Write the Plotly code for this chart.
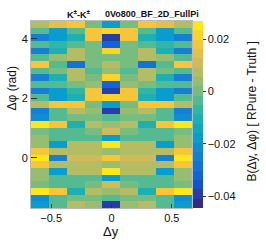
import numpy as np
import plotly.graph_objects as go

# Bin centres
dy_centers = [-0.593, -0.444, -0.296, -0.148, 0.0, 0.148, 0.296, 0.444, 0.593]
n_phi = 28
dphi_centers = list(-np.pi / 2 + np.arange(n_phi) * 2 * np.pi / n_phi)

# Values, rows listed from top (largest dphi) to bottom
z_top_to_bottom = [
    [0.0055, 0.0155, 0.0169, 0.0012, -0.0174, 0.0012, 0.0169, 0.0155, 0.0055],
    [-0.0052, -0.0174, -0.0052, 0.0169, 0.0198, 0.0169, -0.0052, -0.0174, -0.0052],
    [-0.0252, -0.0174, -0.0102, 0.0169, -0.0374, 0.0169, -0.0102, -0.0174, -0.0252],
    [-0.0052, -0.0059, -0.0017, -0.0002, -0.0324, -0.0002, -0.0017, -0.0059, -0.0052],
    [-0.0259, -0.0117, 0.0083, -0.0002, 0.0198, -0.0002, 0.0083, -0.0117, -0.0259],
    [-0.0052, 0.0026, 0.0069, -0.0009, -0.0002, -0.0009, 0.0069, 0.0026, -0.0052],
    [0.0169, -0.0045, -0.0267, -0.0009, 0.0083, -0.0009, -0.0267, -0.0045, 0.0169],
    [-0.0052, 0.0019, 0.0076, -0.0017, 0.0026, -0.0017, 0.0076, 0.0019, -0.0052],
    [-0.0259, -0.0117, 0.0083, -0.0002, 0.0198, -0.0002, 0.0083, -0.0117, -0.0259],
    [-0.0052, -0.0038, -0.0009, 0.0033, -0.0324, 0.0033, -0.0009, -0.0038, -0.0052],
    [-0.0252, -0.0174, -0.0074, 0.0169, -0.0374, 0.0169, -0.0074, -0.0174, -0.0252],
    [-0.0045, -0.0174, -0.0095, 0.0169, 0.0198, 0.0169, -0.0095, -0.0174, -0.0045],
    [0.0055, 0.0162, 0.0162, 0.0012, -0.0174, 0.0012, 0.0162, 0.0162, 0.0055],
    [-0.0231, -0.0024, 0.0083, 0.0041, -0.0409, 0.0041, 0.0083, -0.0024, -0.0231],
    [-0.0209, -0.0017, 0.0012, -0.0009, -0.0017, -0.0009, 0.0012, -0.0017, -0.0209],
    [0.0269, 0.0169, -0.0117, 0.0069, 0.0048, 0.0069, -0.0117, 0.0169, 0.0269],
    [-0.0009, -0.0017, -0.0052, 0.0019, 0.0112, 0.0019, -0.0052, -0.0017, -0.0009],
    [0.0048, -0.0031, -0.0017, -0.0052, -0.0167, -0.0052, -0.0017, -0.0031, 0.0048],
    [0.0048, -0.0195, 0.0083, 0.0055, 0.0255, 0.0055, 0.0083, -0.0195, 0.0048],
    [0.0176, 0.0069, 0.0055, 0.0076, 0.0033, 0.0076, 0.0055, 0.0069, 0.0176],
    [0.0248, -0.0231, 0.0091, 0.0091, 0.0176, 0.0091, 0.0091, -0.0231, 0.0248],
    [0.0176, 0.0069, 0.0055, 0.0076, 0.0033, 0.0076, 0.0055, 0.0069, 0.0176],
    [0.0048, -0.0195, 0.0083, 0.0055, 0.0255, 0.0055, 0.0083, -0.0195, 0.0048],
    [0.0048, -0.0031, -0.0017, -0.0052, -0.0167, -0.0052, -0.0017, -0.0031, 0.0048],
    [-0.0009, -0.0017, -0.0052, 0.0019, 0.0112, 0.0019, -0.0052, -0.0017, -0.0009],
    [0.0269, 0.0169, -0.0117, 0.0069, 0.0048, 0.0069, -0.0117, 0.0169, 0.0269],
    [-0.0209, -0.0017, 0.0012, -0.0009, -0.0017, -0.0009, 0.0012, -0.0017, -0.0209],
    [-0.0195, -0.0024, 0.0083, 0.0041, -0.0409, 0.0041, 0.0083, -0.0024, -0.0195],
]
z_vals = z_top_to_bottom[::-1]

z_min, z_max = -0.0445, 0.0269
cbar_tickvals = [-0.04, -0.02, 0.0, 0.02]
cbar_ticktext = ["\u22120.04", "\u22120.02", "0", "0.02"]

# ROOT kBird (parula) palette, discretised into 20 contour bands
stops = [0.0, 0.125, 0.25, 0.375, 0.5, 0.625, 0.75, 0.875, 1.0]
red = [0.2082, 0.0592, 0.0780, 0.0232, 0.1802, 0.5301, 0.8186, 0.9956, 0.9764]
green = [0.1664, 0.3599, 0.5041, 0.6419, 0.7178, 0.7492, 0.7328, 0.7862, 0.9832]
blue = [0.5293, 0.8684, 0.8385, 0.7914, 0.6425, 0.4662, 0.3499, 0.1968, 0.0539]


def bird(t):
    r = np.interp(t, stops, red)
    g = np.interp(t, stops, green)
    b = np.interp(t, stops, blue)
    return f"rgb({int(r*255)},{int(g*255)},{int(b*255)})"


n_bands = 20
cscale = []
for i in range(n_bands):
    c = bird(min(1.0, i * (255 / n_bands) / 254))
    cscale.append([i / n_bands, c])
    cscale.append([(i + 1) / n_bands, c])

W, H = 266, 242
ml, mr, mt, mb = 31, 74, 21, 34
pw, ph = W - ml - mr, H - mt - mb


def px(xp):
    return (xp - ml) / pw


def py(yp):
    return (H - mb - yp) / ph


fig = go.Figure(
    go.Heatmap(
        x=dy_centers,
        y=dphi_centers,
        z=z_vals,
        zmin=z_min,
        zmax=z_max,
        colorscale=cscale,
        colorbar=dict(
            thickness=10,
            thicknessmode="pixels",
            len=1,
            lenmode="fraction",
            x=px(193),
            xanchor="left",
            xpad=0,
            y=0.5,
            yanchor="middle",
            ypad=0,
            tickvals=cbar_tickvals,
            ticktext=cbar_ticktext,
            ticks="outside",
            ticklen=3,
            tickcolor="#333",
            tickfont=dict(size=11, color="#111"),
            outlinewidth=0,
        ),
    )
)

font_family = "Liberation Sans, Arial, Helvetica, sans-serif"
fig.update_layout(
    width=W,
    height=H,
    margin=dict(l=ml, r=mr, t=mt, b=mb),
    paper_bgcolor="white",
    plot_bgcolor="white",
    font=dict(family=font_family, size=11, color="#111"),
    xaxis=dict(
        range=[-0.667, 0.667],
        tickvals=[-0.5, 0, 0.5],
        ticktext=["\u22120.5", "0", "0.5"],
        ticks="inside",
        ticklen=4,
        tickcolor="#333",
        showgrid=False,
        zeroline=False,
        showline=True,
        linecolor="#bbb",
        linewidth=1,
        mirror=True,
        tickfont=dict(size=11),
    ),
    yaxis=dict(
        range=[-1.683, 4.600],
        tickvals=[0, 2, 4],
        ticks="inside",
        ticklen=6,
        tickcolor="#333",
        showgrid=False,
        zeroline=False,
        showline=True,
        linecolor="#bbb",
        linewidth=1,
        mirror=True,
        tickfont=dict(size=11),
    ),
    annotations=[
        dict(text="<b>K<sup>\u00b1</sup>-K<sup>\u00b1</sup></b>", x=px(65), y=py(14),
             xref="paper", yref="paper", xanchor="left", yanchor="middle",
             showarrow=False, font=dict(size=9)),
        dict(text="<b>0Vo800_BF_2D_FullPi</b>", x=px(103), y=py(14),
             xref="paper", yref="paper", xanchor="left", yanchor="middle",
             showarrow=False, font=dict(size=9)),
        dict(text="\u0394\u03c6 (rad)", x=px(11.5), y=py(89), textangle=-90,
             xref="paper", yref="paper", xanchor="center", yanchor="middle",
             showarrow=False, font=dict(size=12)),
        dict(text="\u0394y", x=px(111), y=py(231),
             xref="paper", yref="paper", xanchor="center", yanchor="middle",
             showarrow=False, font=dict(size=13)),
        dict(text="B(\u0394y, \u0394\u03c6) [ RPure - Truth ]", x=px(251), y=py(111.5),
             textangle=-90, xref="paper", yref="paper", xanchor="center", yanchor="middle",
             showarrow=False, font=dict(size=12)),
    ],
)

fig.write_html(
    "out.html",
    config={"displayModeBar": False},
    post_script="document.body.style.margin='0';document.body.style.overflow='hidden';",
)
